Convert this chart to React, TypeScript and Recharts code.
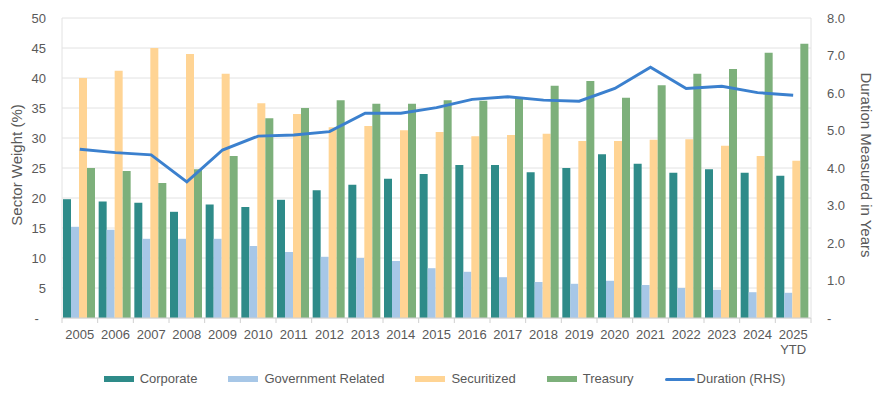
import {
  Bar,
  CartesianGrid,
  ComposedChart,
  Line,
  XAxis,
  YAxis,
} from 'recharts';

const years = [
  '2005', '2006', '2007', '2008', '2009', '2010', '2011', '2012', '2013', '2014', '2015',
  '2016', '2017', '2018', '2019', '2020', '2021', '2022', '2023', '2024', '2025 YTD',
];
const corporate = [
  19.8, 19.4, 19.2, 17.7, 18.9, 18.5, 19.7, 21.3, 22.2, 23.2, 24.0,
  25.5, 25.5, 24.3, 25.0, 27.3, 25.7, 24.2, 24.8, 24.2, 23.7,
];
const govRelated = [
  15.2, 14.7, 13.2, 13.2, 13.2, 12.0, 11.0, 10.2, 10.0, 9.5, 8.3,
  7.7, 6.8, 6.0, 5.7, 6.2, 5.5, 5.0, 4.7, 4.3, 4.2,
];
const securitized = [
  40.0, 41.2, 45.0, 44.0, 40.7, 35.8, 34.0, 31.8, 32.0, 31.3, 31.0,
  30.3, 30.5, 30.7, 29.5, 29.5, 29.7, 29.8, 28.7, 27.0, 26.2,
];
const treasury = [
  25.0, 24.5, 22.5, 24.8, 27.0, 33.3, 35.0, 36.3, 35.7, 35.7, 36.3,
  36.2, 36.8, 38.7, 39.5, 36.7, 38.8, 40.7, 41.5, 44.2, 45.7,
];
const duration = [
  4.5, 4.41, 4.35, 3.63, 4.48, 4.85, 4.88, 4.97, 5.46, 5.46, 5.61,
  5.83, 5.9, 5.81, 5.78, 6.12, 6.69, 6.12, 6.18, 6.01, 5.94,
];
const weightTicks = [0, 5, 10, 15, 20, 25, 30, 35, 40, 45, 50];
const durationTicks = [0, 1, 2, 3, 4, 5, 6, 7, 8];

const data = years.map((year, i) => ({
  year,
  corporate: corporate[i],
  govRelated: govRelated[i],
  securitized: securitized[i],
  treasury: treasury[i],
  duration: duration[i],
}));

const TEXT = '#595959';
const GRID = '#E2E2E2';
const FONT = '"Liberation Sans", Arial, sans-serif';

const series = [
  { key: 'corporate', name: 'Corporate', color: '#2E8B89' },
  { key: 'govRelated', name: 'Government Related', color: '#A7C7E7' },
  { key: 'securitized', name: 'Securitized', color: '#FFD494' },
  { key: 'treasury', name: 'Treasury', color: '#7DB07B' },
];
const lineColor = '#3B80CE';

function YearTick(props: any) {
  const { x, y, payload, index, width, visibleTicksCount } = props;
  const count = visibleTicksCount ?? years.length;
  const band = (width ?? 749) / count;
  const [top, bottom] = String(payload.value).split(' ');
  return (
    <g>
      <line x1={x - band / 2} x2={x - band / 2} y1={y} y2={y + 5} stroke="#D0D0D0" />
      {index === count - 1 && (
        <line x1={x + band / 2} x2={x + band / 2} y1={y} y2={y + 5} stroke="#D0D0D0" />
      )}
      <text x={x} y={y + 21} textAnchor="middle" fill={TEXT} fontSize={13}>
        {top}
      </text>
      {bottom && (
        <text x={x} y={y + 36} textAnchor="middle" fill={TEXT} fontSize={13}>
          {bottom}
        </text>
      )}
    </g>
  );
}

function ChartLegend() {
  return (
    <div
      style={{
        position: 'absolute',
        top: 370,
        left: 4,
        width: 881,
        display: 'flex',
        justifyContent: 'center',
        gap: 31,
        fontFamily: FONT,
        fontSize: 13,
        color: TEXT,
        lineHeight: '18px',
      }}
    >
      {series.map((s) => (
        <div key={s.key} style={{ display: 'flex', alignItems: 'center' }}>
          <span style={{ width: 30, height: 6, background: s.color, marginRight: 6 }} />
          <span>{s.name}</span>
        </div>
      ))}
      <div style={{ display: 'flex', alignItems: 'center' }}>
        <span style={{ width: 30, height: 3, background: lineColor, borderRadius: 2, marginRight: 2 }} />
        <span>Duration (RHS)</span>
      </div>
    </div>
  );
}

export default function App() {
  return (
    <div
      style={{
        position: 'absolute',
        left: 0,
        top: 0,
        width: 881,
        height: 395,
        background: '#FFFFFF',
        fontFamily: FONT,
      }}
    >
      <ComposedChart
        width={881}
        height={395}
        data={data}
        margin={{ top: 18, right: 0, left: 0, bottom: 37 }}
        barCategoryGap={1}
        barGap={0}
      >
        <CartesianGrid vertical={false} stroke={GRID} yAxisId="weight" />
        <XAxis
          dataKey="year"
          interval={0}
          height={40}
          tickSize={0}
          tickMargin={0}
          axisLine={{ stroke: '#D0D0D0' }}
          tickLine={false}
          tick={<YearTick />}
        />
        <YAxis
          yAxisId="weight"
          orientation="left"
          width={62}
          domain={[0, 50]}
          ticks={weightTicks}
          interval={0}
          axisLine={{ stroke: GRID }}
          tickLine={false}
          tickSize={8}
          tickMargin={8}
          tick={{ fill: TEXT, fontSize: 13 }}
          tickFormatter={(v: number) => (v === 0 ? '-\u00A0\u00A0' : String(v))}
          label={{
            value: 'Sector Weight (%)',
            angle: -90,
            position: 'center',
            dx: -14,
            dy: -3,
            fill: TEXT,
            fontSize: 15,
          }}
        />
        <YAxis
          yAxisId="duration"
          orientation="right"
          width={70}
          domain={[0, 8]}
          ticks={durationTicks}
          interval={0}
          axisLine={{ stroke: GRID }}
          tickLine={false}
          tickSize={8}
          tickMargin={8}
          tick={{ fill: TEXT, fontSize: 13 }}
          tickFormatter={(v: number) => (v === 0 ? '-' : v.toFixed(1))}
          label={{
            value: 'Duration Measured in Years',
            angle: 90,
            position: 'center',
            dx: 20,
            dy: -3,
            fill: TEXT,
            fontSize: 15,
          }}
        />
        {series.map((s) => (
          <Bar
            key={s.key}
            yAxisId="weight"
            dataKey={s.key}
            name={s.name}
            fill={s.color}
            isAnimationActive={false}
          />
        ))}
        <Line
          yAxisId="duration"
          dataKey="duration"
          name="Duration (RHS)"
          type="linear"
          stroke={lineColor}
          strokeWidth={3}
          dot={false}
          activeDot={false}
          isAnimationActive={false}
        />
      </ComposedChart>
      <ChartLegend />
    </div>
  );
}
